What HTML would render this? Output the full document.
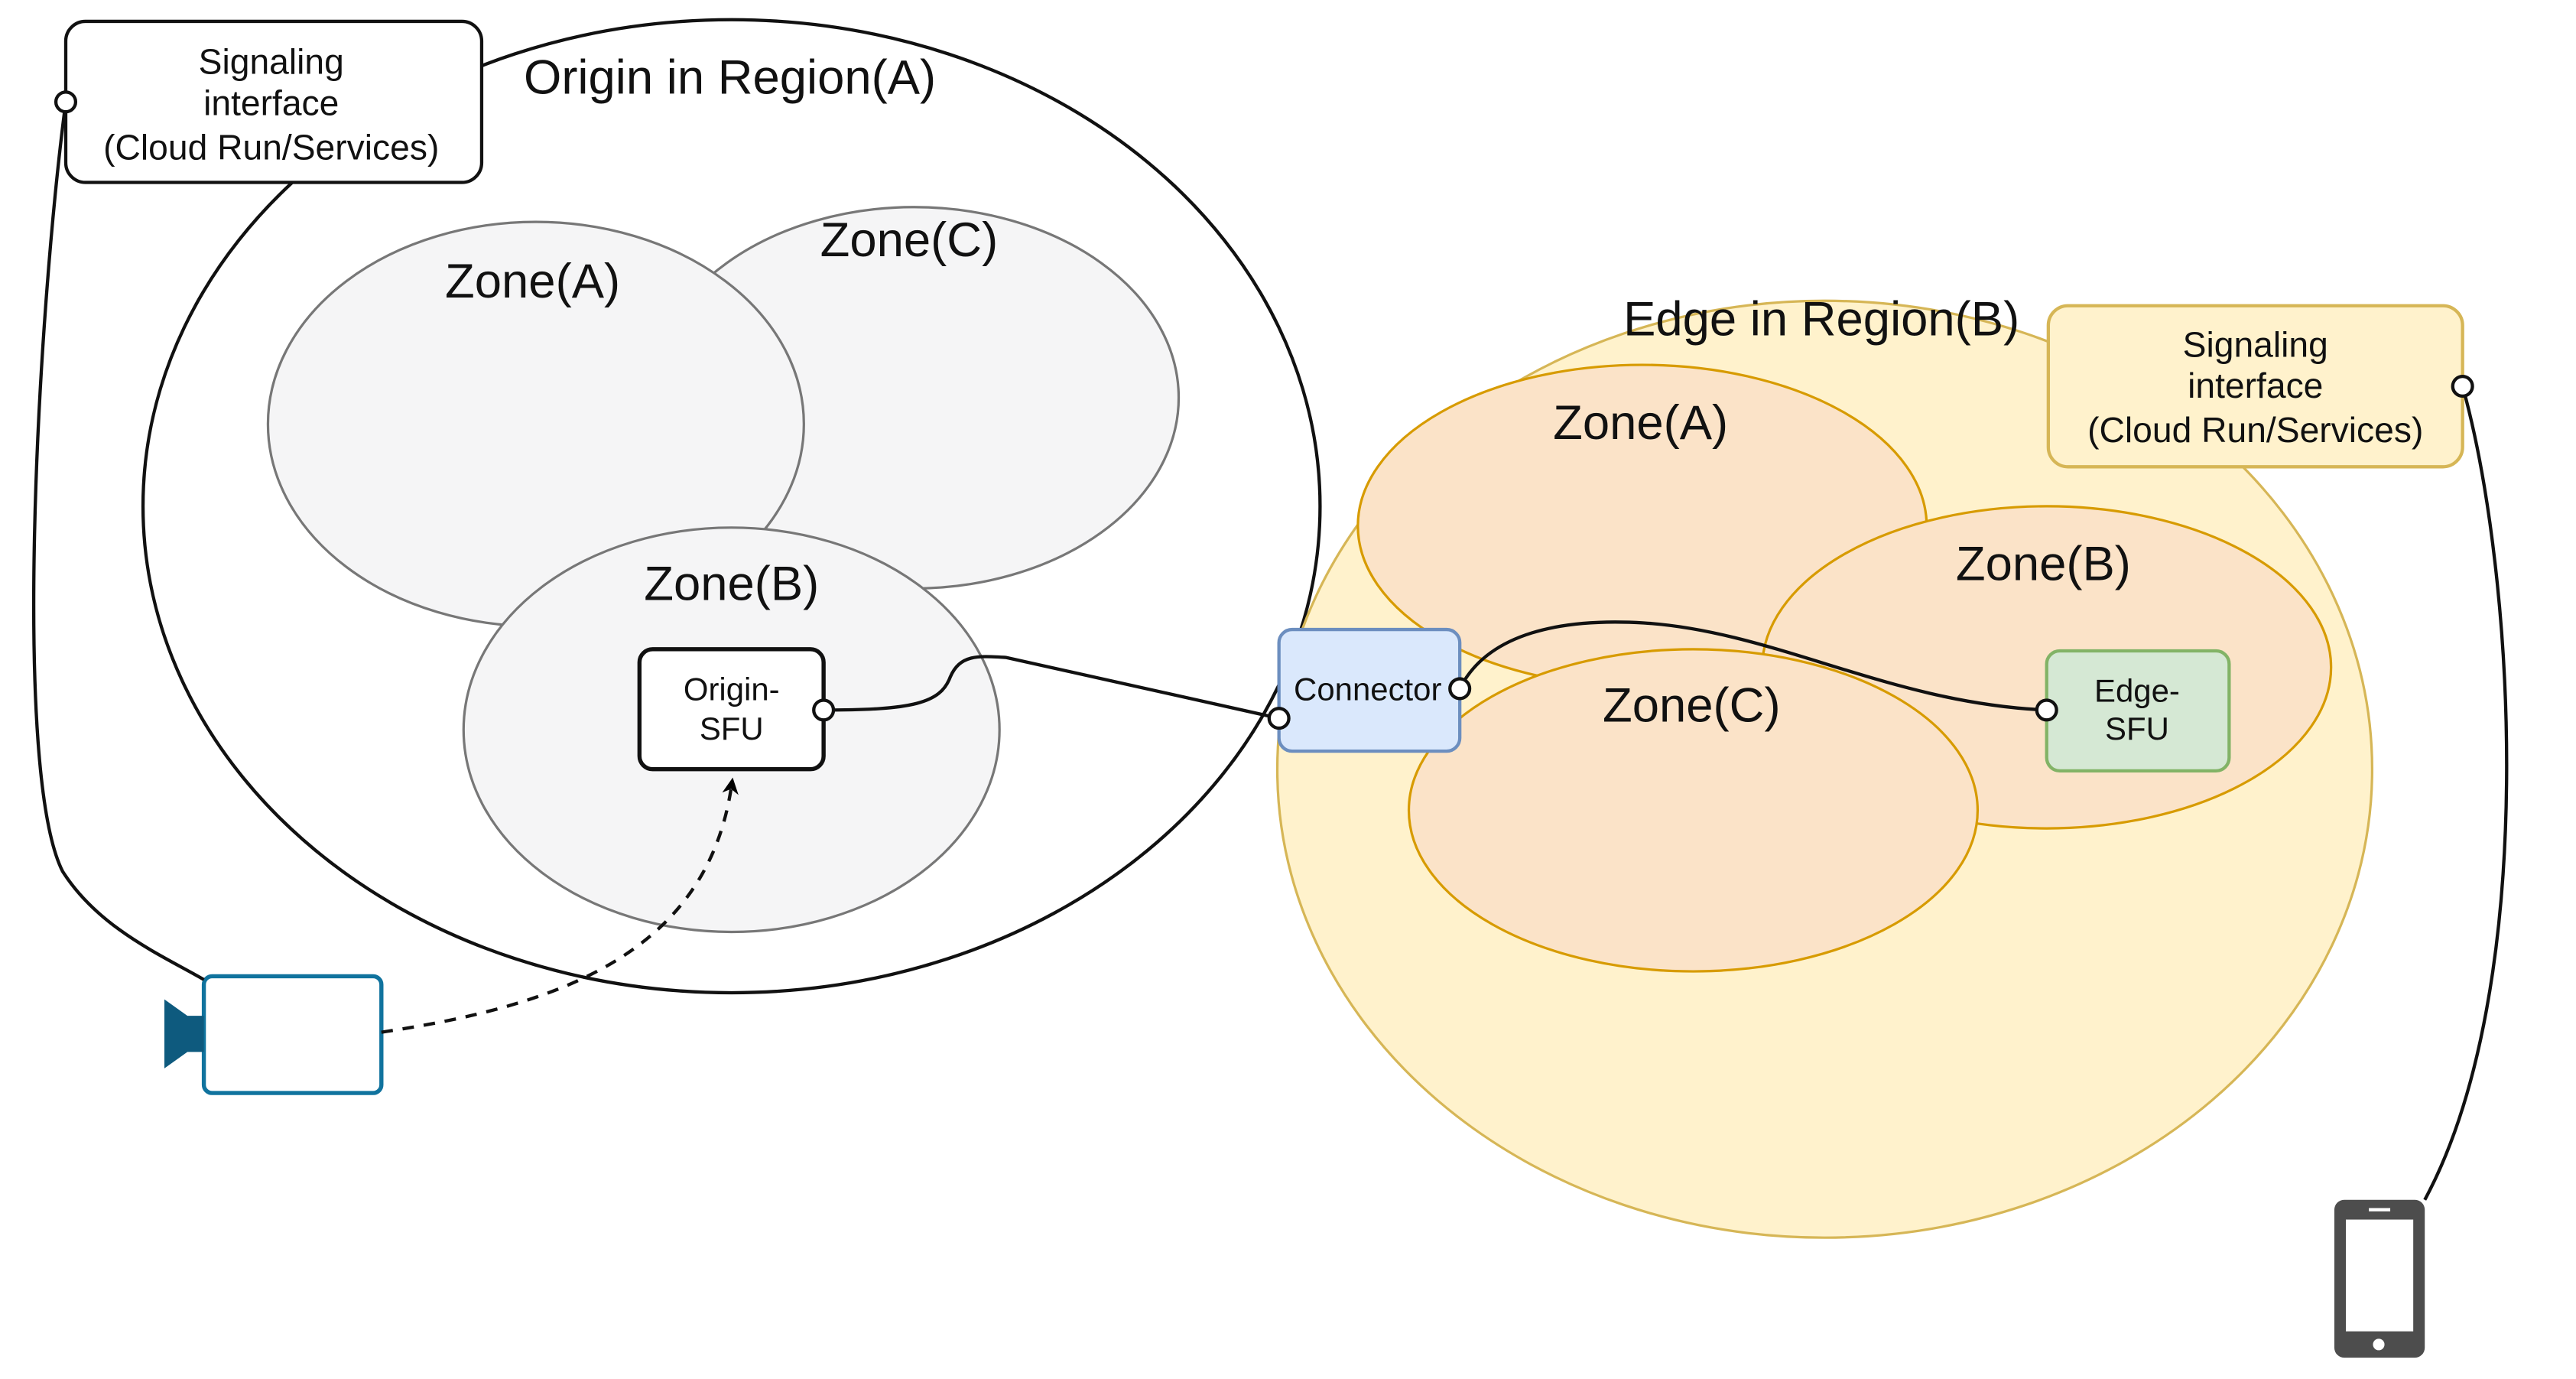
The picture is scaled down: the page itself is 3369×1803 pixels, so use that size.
<!DOCTYPE html>
<html><head><meta charset="utf-8"><style>
html,body{margin:0;padding:0;background:#fff;}
svg{display:block;}
text{font-family:"Liberation Sans",Arial,sans-serif;fill:#111;text-anchor:middle;}
</style></head><body>
<svg width="3369" height="1803" viewBox="0 0 1567 839" preserveAspectRatio="none" xmlns="http://www.w3.org/2000/svg">
<defs>
<marker id="ah" markerWidth="10" markerHeight="10" refX="5" refY="5" orient="auto" markerUnits="userSpaceOnUse">
<path d="M0,0 L10,5 L0,10 L3,5 Z" fill="#000"/>
</marker>
</defs>
<ellipse cx="445" cy="308" rx="358" ry="296" fill="#fff" stroke="#111" stroke-width="2"/>
<ellipse cx="556" cy="242" rx="161" ry="116" fill="#f5f5f6" stroke="#777" stroke-width="1.5"/>
<ellipse cx="326" cy="258" rx="163" ry="123" fill="#f5f5f6" stroke="#777" stroke-width="1.5"/>
<ellipse cx="445" cy="444" rx="163" ry="123" fill="#f5f5f6" stroke="#777" stroke-width="1.5"/>
<text x="444" y="57" font-size="29.5">Origin in Region(A)</text>
<text x="324" y="181" font-size="29.5">Zone(A)</text>
<text x="553" y="156" font-size="29.5">Zone(C)</text>
<text x="445" y="365" font-size="29.5">Zone(B)</text>

<ellipse cx="1110" cy="468" rx="333" ry="285" fill="#fff2cc" stroke="#d6b656" stroke-width="1.5"/>
<ellipse cx="999" cy="320" rx="173" ry="98" fill="#fbe3c8" stroke="#d79b00" stroke-width="1.5"/>
<ellipse cx="1245" cy="406" rx="173" ry="98" fill="#fbe3c8" stroke="#d79b00" stroke-width="1.5"/>
<ellipse cx="1030" cy="493" rx="173" ry="98" fill="#fbe3c8" stroke="#d79b00" stroke-width="1.5"/>
<text x="1108" y="204" font-size="29.5">Edge in Region(B)</text>
<text x="998" y="267" font-size="29.5">Zone(A)</text>
<text x="1243" y="353" font-size="29.5">Zone(B)</text>
<text x="1029" y="439" font-size="29.5">Zone(C)</text>

<rect x="40" y="13" width="253" height="98" rx="12" fill="#fff" stroke="#111" stroke-width="2"/>
<text x="165" y="45" font-size="21.5">Signaling</text>
<text x="165" y="70" font-size="21.5">interface</text>
<text x="165" y="97" font-size="21.5">(Cloud Run/Services)</text>

<rect x="1246" y="186" width="252" height="98" rx="12" fill="#fff2cc" stroke="#d6b656" stroke-width="2"/>
<text x="1372" y="217" font-size="21.5">Signaling</text>
<text x="1372" y="242" font-size="21.5">interface</text>
<text x="1372" y="269" font-size="21.5">(Cloud Run/Services)</text>

<rect x="389" y="395" width="112" height="73" rx="8" fill="#fff" stroke="#111" stroke-width="2.5"/>
<text x="445" y="426" font-size="19.5">Origin-</text>
<text x="445" y="450" font-size="19.5">SFU</text>

<rect x="778" y="383" width="110" height="74" rx="8" fill="#dae8fc" stroke="#6c8ebf" stroke-width="2"/>
<text x="832" y="426" font-size="19.5">Connector</text>

<rect x="1245" y="396" width="111" height="73" rx="8" fill="#d5e8d4" stroke="#82b366" stroke-width="2"/>
<text x="1300" y="427" font-size="19.5">Edge-</text>
<text x="1300" y="450" font-size="19.5">SFU</text>

<rect x="124" y="594" width="108" height="71" rx="5" fill="#fff" stroke="#10739e" stroke-width="2.5"/>
<polygon points="100,608 114,618 124,618 124,640 114,640 100,650" fill="#0e5a7e"/>

<rect x="1420" y="730" width="55" height="96" rx="6" fill="#4d4d4d"/>
<rect x="1427" y="742" width="41" height="68" fill="#fff"/>
<rect x="1441" y="735" width="13" height="2" fill="#fff"/>
<circle cx="1447" cy="818" r="3.5" fill="#fff"/>

<g fill="none" stroke="#111" stroke-width="2">
<path d="M40,62 C 22,200 8,470 38,530 C 60,565 100,582 124,596"/>
<path d="M501,432 C 555,432 572,428 578,412 C 584,398 595,399 612,400 L 778,437"/>
<path d="M888,419 C 905,385 950,376 1000,379 C 1080,384 1150,428 1245,432"/>
<path d="M1498,235 C 1530,350 1545,600 1475,730"/>
<path d="M232,628 C 340,612 430,580 445,478" stroke-dasharray="7,6" marker-end="url(#ah)"/>
</g>
<g fill="#fff" stroke="#111" stroke-width="2">
<circle cx="40" cy="62" r="6"/>
<circle cx="501" cy="432" r="6"/>
<circle cx="778" cy="437" r="6"/>
<circle cx="888" cy="419" r="6"/>
<circle cx="1245" cy="432" r="6"/>
<circle cx="1498" cy="235" r="6"/>
</g>
</svg>
</body></html>
